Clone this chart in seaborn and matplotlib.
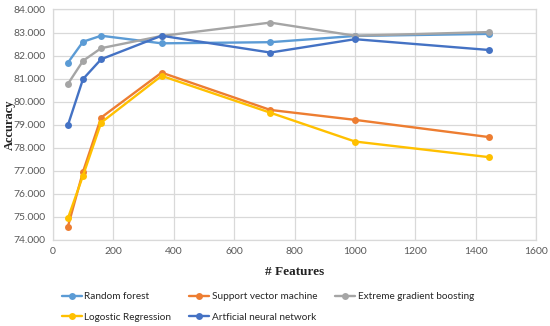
import numpy as np
import pandas as pd
import matplotlib
matplotlib.use("Agg")
import matplotlib.pyplot as plt
import seaborn as sns
from matplotlib.ticker import FormatStrFormatter

# number of features used for each run
features = [50, 100, 160, 360, 720, 1000, 1445]

random_forest = [81.69, 82.60, 82.86, 82.53, 82.58, 82.85, 82.94]
svm = [74.58, 76.96, 79.31, 81.26, 79.64, 79.21, 78.46]
xgboost = [80.77, 81.77, 82.32, 82.85, 83.43, 82.86, 83.02]
logistic = [74.94, 76.79, 79.09, 81.12, 79.52, 78.27, 77.59]
ann = [78.98, 80.98, 81.84, 82.86, 82.13, 82.71, 82.24]

series_names = ['Random forest', 'Support vector machine', 'Extreme gradient boosting',
                'Logostic Regression', 'Artficial neural network']
series_values = [random_forest, svm, xgboost, logistic, ann]
colors = ['#5B9BD5', '#ED7D31', '#A5A5A5', '#FFC000', '#4472C4']

sns.set_style('white')
plt.rcParams['font.family'] = ['Lato', 'DejaVu Sans']

fig, ax = plt.subplots(figsize=(5.5, 3.26), dpi=100)
fig.subplots_adjust(left=0.096, right=0.975, top=0.971, bottom=0.264)

for name, vals, c in zip(series_names, series_values, colors):
    df = pd.DataFrame({'features': features, 'accuracy': vals})
    sns.lineplot(data=df, x='features', y='accuracy', ax=ax, color=c, marker='o',
                 markersize=5, markeredgewidth=0, linewidth=1.7, label=name)

ax.set_xlim(0, 1600)
ax.set_ylim(74, 84)
ax.set_xticks(np.arange(0, 1601, 200))
ax.set_yticks(np.arange(74, 84.01, 1))
ax.yaxis.set_major_formatter(FormatStrFormatter('%.3f'))
ax.grid(True, color='#D9D9D9', linewidth=0.9)
ax.set_axisbelow(True)
for s in ax.spines.values():
    s.set_color('#D9D9D9')
    s.set_linewidth(0.9)
ax.tick_params(axis='both', labelsize=7.5, colors='#595959', length=0, pad=5)

ax.set_xlabel('# Features', fontsize=9.5, fontweight='bold', family='Liberation Serif',
              color='#222222')
ax.xaxis.set_label_coords(0.5, -0.115)
ax.set_ylabel('Accuracy', fontsize=9, fontweight='bold', family='Liberation Serif',
              color='#222222')
ax.yaxis.set_label_coords(-0.076, 0.5)

# reorder so rows read across like the original (legend fills column-major)
handles, labels = ax.get_legend_handles_labels()
order = [0, 3, 1, 4, 2]
ax.legend([handles[i] for i in order], [labels[i] for i in order],
          loc='upper left', bbox_to_anchor=(0.018, -0.228), ncol=3, frameon=False,
          fontsize=7.2, handlelength=2.0, handletextpad=0.25, columnspacing=1.8,
          labelspacing=1.15, borderaxespad=0, borderpad=0, labelcolor='#262626')

fig.savefig('out.png', dpi=100)
